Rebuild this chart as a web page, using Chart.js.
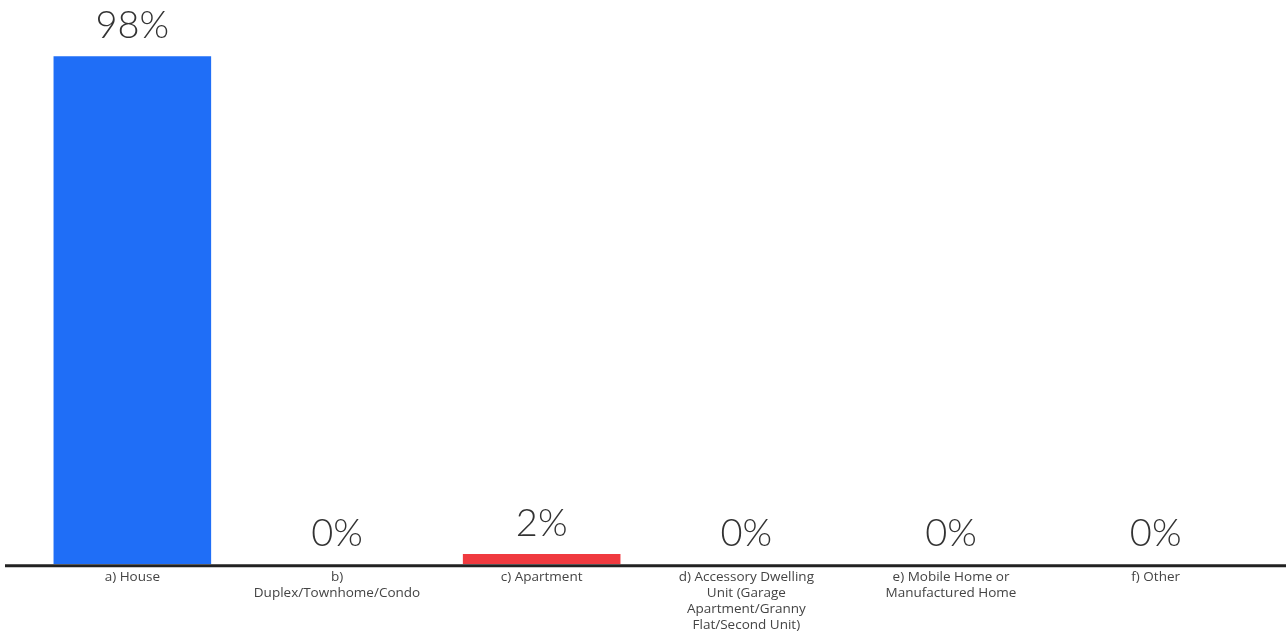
<!DOCTYPE html>
<html>
<head>
<meta charset="utf-8">
<script src="https://cdn.jsdelivr.net/npm/chart.js@4"></script>
<style>
  html, body { margin: 0; padding: 0; background: #fff; }
  #wrap { width: 1286px; height: 635px; }
</style>
</head>
<body>
<div id="wrap"><canvas id="myChart"></canvas></div>
<script>
// categories (multi-line as in the picture)
const categories = [
    ['a) House'],
    ['b)', 'Duplex/Townhome/Condo'],
    ['c) Apartment'],
    ['d) Accessory Dwelling', 'Unit (Garage', 'Apartment/Granny', 'Flat/Second Unit)'],
    ['e) Mobile Home or', 'Manufactured Home'],
    ['f) Other']
];
const percents = [98, 0, 2, 0, 0, 0];
const barColors = ['#1f6ef7', '#1f6ef7', '#f03a3f', '#1f6ef7', '#1f6ef7', '#1f6ef7'];

// labels above the bars
const valueLabels = {
    id: 'valueLabels',
    afterDatasetsDraw(chart) {
        const ctx = chart.ctx;
        const meta = chart.getDatasetMeta(0);
        ctx.save();
        ctx.font = '300 38px Lato';
        ctx.fillStyle = '#333';
        ctx.textAlign = 'center';
        ctx.textBaseline = 'alphabetic';
        meta.data.forEach((bar, i) => {
            ctx.fillText(percents[i] + '%', bar.x, bar.y - 18);
        });
        ctx.restore();
    }
};

// baseline rule, runs wider than the plot area
const baseLine = {
    id: 'baseLine',
    afterDatasetsDraw(chart) {
        const ctx = chart.ctx;
        const y = chart.chartArea.bottom + 1.5;
        ctx.save();
        ctx.strokeStyle = '#222';
        ctx.lineWidth = 3;
        ctx.beginPath();
        ctx.moveTo(5, y);
        ctx.lineTo(chart.width, y);
        ctx.stroke();
        ctx.restore();
    }
};

const ctx = document.getElementById('myChart').getContext('2d');
const myChart = new Chart(ctx, {
    type: 'bar',
    data: {
        labels: categories,
        datasets: [{
            data: percents,
            backgroundColor: barColors,
            categoryPercentage: 0.77,
            barPercentage: 1
        }]
    },
    options: {
        responsive: true,
        maintainAspectRatio: false,
        animation: false,
        layout: { padding: { left: 30, right: 28, top: 46, bottom: -3 } },
        plugins: {
            legend: { display: false },
            tooltip: { enabled: false }
        },
        scales: {
            x: {
                grid: { display: false, drawTicks: false },
                border: { display: false },
                ticks: {
                    color: '#444',
                    font: { family: 'Open Sans', size: 13.5, lineHeight: 1.18 },
                    padding: 5,
                    maxRotation: 0,
                    autoSkip: false
                }
            },
            y: {
                display: false,
                min: 0,
                max: 100
            }
        }
    },
    plugins: [valueLabels, baseLine]
});
</script>
</body>
</html>
